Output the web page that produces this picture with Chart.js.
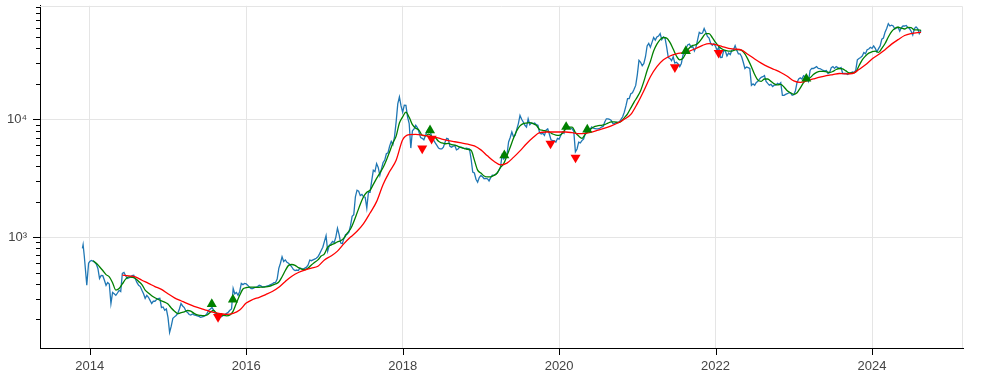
<!DOCTYPE html>
<html>
<head>
<meta charset="utf-8">
<script src="https://cdn.jsdelivr.net/npm/chart.js@4.4.1/dist/chart.umd.min.js"></script>
<style>
  html, body { margin: 0; padding: 0; background: #fff; }
  #wrap { width: 1000px; height: 375px; }
</style>
</head>
<body>
<div id="wrap"><canvas id="chart" width="1000" height="375"></canvas></div>
<script>
// Axis ticks
const xTicks = [2014, 2016, 2018, 2020, 2022, 2024];
const yTicks = [200, 300, 400, 500, 600, 700, 800, 900,
                1000, 2000, 3000, 4000, 5000, 6000, 7000, 8000, 9000,
                10000, 20000, 30000, 40000, 50000, 60000, 70000, 80000, 90000];
const yMajor = [1000, 10000];

// Close price. First days of the file in decimal years, then four points a month
const headYears = [2013.906, 2013.915, 2013.93, 2013.962, 2013.985];
const headPrice = [800, 860, 690, 390, 600];
const price2014 = [620, 634, 625, 610,  590, 542, 445, 473,  470, 430, 389, 412,  400, 273, 339, 330,
                   320, 335, 353, 345,  491, 500, 470, 445,  450, 460, 470, 473,  440, 410, 389, 380,
                   353, 330, 302, 320,  308, 290, 273, 285,  285, 295, 300, 302,  252, 255, 239, 245];
const price2015 = [208, 155, 175, 204,  210, 216, 225, 245,  273, 260, 252, 235,  229, 220, 218, 222,
                   218, 216, 214, 212,  208, 210, 212, 216,  225, 239, 245, 252,  240, 225, 215, 210,
                   208, 212, 216, 220,  225, 230, 239, 245,  366, 330, 339, 320,  345, 404, 395, 404];
const price2016 = [400, 389, 375, 366,  366, 372, 376, 380,  390, 385, 376, 380,  382, 385, 389, 395,
                   400, 410, 412, 440,  542, 600, 681, 620,  640, 610, 600, 580,  557, 530, 520, 525,
                   520, 546, 540, 535,  545, 555, 580, 638,  630, 640, 650, 660,  680, 720, 770, 820];
const price2017 = [920, 1030, 760, 850,  880, 920, 900, 1000,  1190, 1050, 889, 880,  980, 1050, 1060, 1100,
                   1250, 1500, 1550, 2200,  2500, 2450, 2250, 2300,  2200, 2180, 1760, 2400,  2400, 3000, 3690, 3600,
                   4200, 3900, 3340, 3800,  4300, 4500, 5100, 5200,  5900, 6500, 6100, 7100,  9500, 13500, 15500, 13000];
const price2018 = [11500, 13200, 13150, 10500,  9200, 5700, 8000, 8300,  8900, 8500, 7800, 7000,  6900, 6700, 7300, 7900,
                   8300, 7800, 7000, 6650,  6300, 6000, 5700, 5600,  5600, 5800, 6400, 6900,  6800, 5900, 5800, 5900,
                   6000, 5500, 5600, 5800,  5800, 5700, 5650, 5700,  5650, 5600, 4600, 3570,  3500, 3100, 2930, 3200];
const price2019 = [3340, 3250, 3130, 3150,  3130, 3000, 3200, 3350,  3340, 3400, 3500, 3690,  3900, 4950, 4600, 4800,
                   5000, 6420, 7000, 7800,  7100, 7300, 8200, 9200,  10800, 10000, 9500, 8900,  8600, 10100, 9000, 9300,
                   9200, 9300, 9000, 8900,  7700, 7500, 7600, 7300,  8100, 8300, 7500, 6700,  6600, 6600, 6400, 6900];
const price2020 = [6800, 7300, 7800, 7600,  8900, 8800, 8600, 8400,  8300, 7900, 5300, 5600,  6400, 6300, 6600, 6800,
                   7500, 8100, 8060, 8200,  8600, 8400, 8350, 8300,  8300, 8400, 8600, 8700,  9500, 10100, 10100, 10000,
                   9800, 9200, 9200, 9400,  9400, 9500, 10000, 10500,  11500, 13000, 15000, 15000,  16500, 16800, 18000, 19400];
const price2021 = [24000, 31700, 30500, 28500,  29800, 34000, 42000, 44100,  41000, 45000, 49500, 47000,  50000, 51000, 53500, 47500,
                   50000, 49000, 41000, 33500,  32900, 31500, 34000, 30000,  30500, 29500, 28000, 29800,  35000, 38600, 40500, 43000,
                   43500, 40900, 41500, 38000,  41000, 47500, 54700, 53500,  54000, 59000, 55000, 50500,  49000, 44100, 42500, 44000];
const price2022 = [41500, 38500, 40900, 33500,  33600, 38500, 38000, 34500,  36500, 35500, 38600, 39000,  42300, 38500, 36000, 36000,
                   34000, 30500, 27000, 27800,  27500, 27000, 19400, 20000,  19500, 20600, 21000, 22000,  22700, 23000, 23500, 21000,
                   20200, 19500, 19800, 19000,  19500, 19500, 20200, 19800,  20500, 16000, 16000, 16300,  16500, 16800, 16800, 16000];
const price2023 = [16200, 17500, 20600, 22000,  22500, 22000, 23500, 23000,  22500, 21000, 26000, 27100,  27000, 27500, 28000, 27100,
                   27000, 26500, 26000, 25800,  26000, 24500, 25000, 27500,  28000, 27100, 28000, 27500,  27000, 27500, 24500, 24500,
                   24500, 24000, 24500, 24800,  25200, 25000, 26000, 32000,  32900, 33500, 34500, 36900,  36000, 39000, 39500, 40900];
const price2024 = [40000, 42000, 40000, 37500,  39800, 42000, 48000, 49000,  55000, 59000, 65000, 62000,  63000, 62000, 58500, 60000,
                   60400, 56000, 60000, 62000,  62000, 62700, 60000, 59000,  56000, 52000, 59000, 61000,  59000, 53500];

// 50 day average, 1st and 16th of every month
const green2014 = [null, 630, 600, 560, 520, 480, 460, 410, 355, 366, 400, 440, 460, 455, 445, 420, 395, 355, 335, 318, 305, 295, 287, 280];
const green2015 = [270, 250, 235, 224, 228, 232, 238, 235, 225, 218, 216, 215, 218, 230, 238, 224, 220, 216, 214, 218, 235, 275, 320, 362];
const green2016 = [372, 376, 376, 374, 375, 376, 378, 382, 390, 400, 415, 460, 520, 575, 585, 575, 550, 535, 530, 545, 580, 610, 640, 690];
const green2017 = [720, 820, 855, 880, 910, 930, 980, 1080, 1170, 1350, 1600, 1900, 2200, 2400, 2500, 2800, 3150, 3500, 3900, 4500, 5300, 6300, 7200, 9300];
const green2018 = [10500, 11500, 10400, 9000, 8400, 8100, 7300, 7250, 7500, 7150, 7000, 6500, 6300, 6200, 6250, 6100, 6050, 5900, 5750, 5650, 5550, 5450, 4500, 3700];
const green2019 = [3500, 3300, 3240, 3250, 3340, 3500, 3900, 4200, 4900, 5800, 6900, 8000, 8800, 9190, 9300, 9370, 9200, 8900, 8200, 8060, 7950, 7800, 7500, 7350];
const green2020 = [7310, 7600, 8300, 8600, 8600, 7700, 7200, 6900, 7450, 7900, 8400, 8700, 8850, 8900, 9000, 9300, 9500, 9500, 9400, 9600, 10300, 11140, 12500, 14000];
const green2021 = [15500, 17500, 21000, 26000, 31000, 38000, 43500, 47500, 49500, 49000, 45000, 39500, 34500, 32000, 33000, 37000, 40500, 42500, 43000, 45500, 49500, 53500, 53500, 49500];
const green2022 = [45000, 41500, 39500, 38500, 38000, 38000, 38800, 39000, 38500, 36000, 32000, 28000, 24000, 21500, 21000, 22000, 22000, 21000, 20000, 19600, 19800, 18800, 17500, 16800];
const green2023 = [16300, 16800, 18500, 20500, 21800, 22500, 24000, 25000, 25500, 25500, 25300, 25000, 25500, 26500, 27000, 26800, 25800, 24800, 24800, 25200, 28500, 32000, 34500, 36500];
const green2024 = [37500, 38000, 37000, 40000, 44000, 50000, 55500, 59000, 60500, 59500, 58500, 60400, 60000, 57500, 57500];

// 200 day average, 1st of every month
const red2014 = [null, null, null, null, null, 475, 468, 460, 430, 405, 380, 360];
const red2015 = [330, 305, 288, 272, 258, 248, 238, 229, 224, 221, 225, 240];
const red2016 = [275, 295, 308, 325, 345, 375, 420, 465, 500, 525, 545, 565];
const red2017 = [640, 690, 760, 880, 1000, 1120, 1300, 1600, 2000, 2800, 3600, 4500];
const red2018 = [6700, 7400, 7450, 7350, 7200, 7050, 6800, 6600, 6450, 6300, 6150, 5950];
const red2019 = [5500, 4900, 4400, 4100, 4250, 4750, 5400, 6200, 7000, 7700, 7800, 7800];
const red2020 = [7800, 7800, 7700, 7550, 7600, 7800, 8100, 8400, 8800, 9300, 10000, 11000];
const red2021 = [13600, 17500, 23000, 28000, 32000, 34500, 36000, 36800, 38000, 40000, 42500, 44000];
const red2022 = [43000, 41500, 40000, 39500, 38700, 35500, 32500, 30000, 28000, 26500, 25000, 23200];
const red2023 = [21200, 20600, 21200, 22000, 22800, 23500, 24000, 24500, 24300, 24500, 26500, 29000];
const red2024 = [32500, 35500, 39000, 43500, 47500, 51500, 53500, 54500];

// last day in the file
const lastYear = 2024.627;
const lastPrice = 56800;
const lastGreen = 57000;
const lastRed = 54700;

// crossover signals
const buyYears = [2015.56, 2015.83, 2018.35, 2019.30, 2020.09, 2020.36, 2021.62, 2023.16];
const buyPrice = [270, 295, 8070, 4950, 8610, 8190, 37960, 22130];
const sellYears = [2015.64, 2018.25, 2018.37, 2019.89, 2020.21, 2021.48, 2022.04];
const sellPrice = [210, 5650, 6860, 6225, 4735, 27700, 36700];

const years = [2014, 2015, 2016, 2017, 2018, 2019, 2020, 2021, 2022, 2023, 2024];
const priceByYear = [price2014, price2015, price2016, price2017, price2018, price2019, price2020, price2021, price2022, price2023, price2024];
const greenByYear = [green2014, green2015, green2016, green2017, green2018, green2019, green2020, green2021, green2022, green2023, green2024];
const redByYear = [red2014, red2015, red2016, red2017, red2018, red2019, red2020, red2021, red2022, red2023, red2024];

// arr holds `perYear` evenly spaced points for each year
function toPoints(byYear, perYear) {
    const pts = [];
    byYear.forEach((arr, k) => {
        arr.forEach((v, i) => {
            if (v !== null) pts.push({ x: years[k] + i / perYear, y: v });
        });
    });
    return pts;
}

const pricePoints = headYears.map((x, i) => ({ x: x, y: headPrice[i] }))
    .concat(toPoints(priceByYear, 48), [{ x: lastYear, y: lastPrice }]);
const greenPoints = toPoints(greenByYear, 24).concat([{ x: lastYear, y: lastGreen }]);
const redPoints = toPoints(redByYear, 12).concat([{ x: lastYear, y: lastRed }]);
const buyPoints = buyYears.map((x, i) => ({ x: x, y: buyPrice[i] }));
const sellPoints = sellYears.map((x, i) => ({ x: x, y: sellPrice[i] }));

// light frame on top / right and the outer tick marks
const frameAndTicks = {
    id: 'frameAndTicks',
    beforeDatasetsDraw(chart) {
        const { ctx, chartArea: a } = chart;
        ctx.save();
        ctx.strokeStyle = '#e5e5e5';
        ctx.lineWidth = 1;
        ctx.beginPath();
        ctx.moveTo(a.left, Math.round(a.top) + 0.5);
        ctx.lineTo(Math.round(a.right) - 0.5, Math.round(a.top) + 0.5);
        ctx.lineTo(Math.round(a.right) - 0.5, a.bottom);
        ctx.stroke();
        ctx.restore();
    },
    afterDraw(chart) {
        const { ctx, chartArea: a, scales } = chart;
        ctx.save();
        ctx.strokeStyle = '#000';
        ctx.lineWidth = 1;
        ctx.beginPath();
        yTicks.forEach(v => {
            const py = Math.round(scales.y.getPixelForValue(v)) + 0.5;
            const len = yMajor.includes(v) ? 7 : 4;
            ctx.moveTo(a.left - len, py);
            ctx.lineTo(a.left, py);
        });
        xTicks.forEach(v => {
            const px = Math.round(scales.x.getPixelForValue(v)) + 0.5;
            ctx.moveTo(px, a.bottom);
            ctx.lineTo(px, a.bottom + 7);
        });
        ctx.stroke();
        ctx.restore();
    }
};

const fontFamily = "'Liberation Sans', Arial, sans-serif";

const ctx = document.getElementById('chart').getContext('2d');
const chart = new Chart(ctx, {
    type: 'line',
    data: {
        datasets: [
            {
                label: 'Buy',
                data: buyPoints,
                showLine: false,
                pointStyle: 'triangle',
                pointRadius: 5.8,
                pointBackgroundColor: '#008000',
                pointBorderColor: '#008000',
                pointBorderWidth: 0,
                order: 0
            },
            {
                label: 'Sell',
                data: sellPoints,
                showLine: false,
                pointStyle: 'triangle',
                pointRotation: 180,
                pointRadius: 5.8,
                pointBackgroundColor: '#ff0000',
                pointBorderColor: '#ff0000',
                pointBorderWidth: 0,
                order: 0
            },
            {
                label: 'SMA 200',
                data: redPoints,
                borderColor: '#ff0000',
                borderWidth: 1.3,
                pointRadius: 0,
                cubicInterpolationMode: 'monotone',
                order: 1
            },
            {
                label: 'SMA 50',
                data: greenPoints,
                borderColor: '#008000',
                borderWidth: 1.3,
                pointRadius: 0,
                cubicInterpolationMode: 'monotone',
                order: 2
            },
            {
                label: 'Close',
                data: pricePoints,
                borderColor: '#1f77b4',
                borderWidth: 1.3,
                pointRadius: 0,
                order: 3
            }
        ]
    },
    options: {
        responsive: false,
        animation: false,
        devicePixelRatio: 1,
        layout: {
            padding: { top: 5, right: 37, left: 0, bottom: 0 }
        },
        plugins: {
            legend: { display: false },
            tooltip: { enabled: false }
        },
        scales: {
            x: {
                type: 'linear',
                min: 2013.364,
                max: 2025.163,
                afterBuildTicks: scale => {
                    scale.ticks = xTicks.map(v => ({ value: v }));
                },
                afterFit: scale => {
                    scale.height = 27;
                    scale.paddingLeft = 0;
                    scale.paddingRight = 0;
                },
                grid: {
                    color: '#e5e5e5',
                    drawTicks: false
                },
                border: { color: '#000', width: 1 },
                ticks: {
                    padding: 11,
                    color: '#444',
                    font: { family: fontFamily, size: 13 },
                    maxRotation: 0,
                    callback: v => String(v)
                }
            },
            y: {
                type: 'logarithmic',
                min: 114.3,
                max: 92040,
                afterBuildTicks: scale => {
                    scale.ticks = yTicks.map(v => ({ value: v }));
                },
                afterFit: scale => {
                    scale.width = 40;
                    scale.paddingTop = 0;
                    scale.paddingBottom = 0;
                },
                grid: {
                    color: c => (c.tick && yMajor.includes(c.tick.value)) ? '#e5e5e5' : 'rgba(0,0,0,0)',
                    drawTicks: false
                },
                border: { color: '#000', width: 1 },
                ticks: {
                    autoSkip: false,
                    padding: 13,
                    color: '#444',
                    font: { family: fontFamily, size: 13 },
                    callback: v => v === 1000 ? '10\u00b3' : (v === 10000 ? '10\u2074' : '')
                }
            }
        }
    },
    plugins: [frameAndTicks]
});
</script>
</body>
</html>
